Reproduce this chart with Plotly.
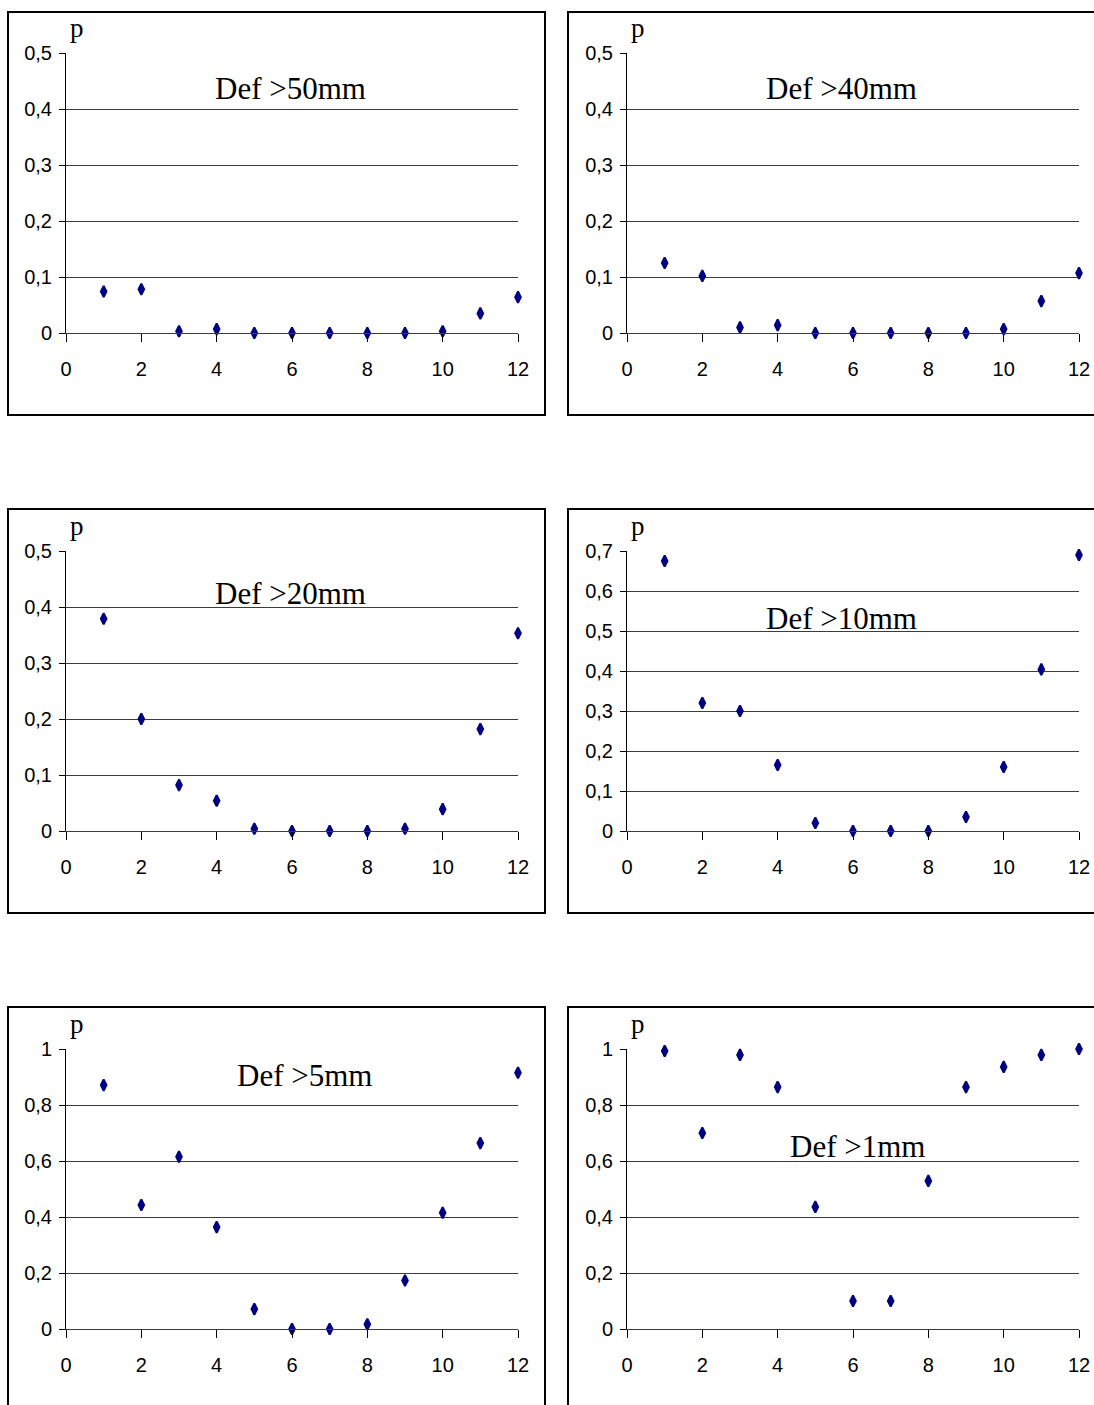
import plotly.graph_objects as go

# ---------------- data ----------------
months = [1, 2, 3, 4, 5, 6, 7, 8, 9, 10, 11, 12]

titles = ["Def >50mm", "Def >40mm", "Def >20mm", "Def >10mm", "Def >5mm", "Def >1mm"]

p_def50 = [0.074, 0.078, 0.003, 0.007, 0.0, 0.0, 0.0, 0.0, 0.0, 0.003, 0.035, 0.064]
p_def40 = [0.125, 0.102, 0.010, 0.014, 0.0, 0.0, 0.0, 0.0, 0.0, 0.007, 0.057, 0.107]
p_def20 = [0.379, 0.200, 0.082, 0.054, 0.004, 0.0, 0.0, 0.0, 0.004, 0.039, 0.182, 0.353]
p_def10 = [0.675, 0.320, 0.300, 0.165, 0.020, 0.0, 0.0, 0.0, 0.035, 0.160, 0.404, 0.690]
p_def5 = [0.871, 0.443, 0.615, 0.364, 0.071, 0.0, 0.0, 0.017, 0.173, 0.415, 0.664, 0.915]
p_def1 = [0.993, 0.700, 0.979, 0.864, 0.436, 0.100, 0.100, 0.529, 0.864, 0.936, 0.979, 1.000]

series = [p_def50, p_def40, p_def20, p_def10, p_def5, p_def1]
y_max = [0.5, 0.5, 0.5, 0.7, 1.0, 1.0]
y_step = [0.1, 0.1, 0.1, 0.1, 0.2, 0.2]
x_ticks = [0, 2, 4, 6, 8, 10, 12]

# ---------------- layout helpers ----------------
W, H = 1094, 1405


def px_x(v):
    return v / W


def px_y(v):
    return 1 - v / H


col_px = [(66, 518), (627, 1079)]
row_px = [(53, 333), (551, 831), (1049, 1329)]
box_col = [(8, 545), (568, 1110)]
box_row = [(12, 415), (509, 913), (1007, 1420)]
title_pos = [(290, 89), (841, 89), (290, 594), (841, 618), (305, 1075), (857, 1146)]

tick_font = dict(family="Liberation Sans, Arial, sans-serif", size=20, color="black")
serif = "Liberation Serif, Times New Roman, serif"
marker_color = "#000080"
grid_color = "#3c3c3c"

fig = go.Figure()
layout = dict(
    width=W, height=H,
    margin=dict(l=0, r=0, t=0, b=0, pad=0, autoexpand=False),
    paper_bgcolor="white", plot_bgcolor="white",
    showlegend=False,
    separators=", ",
    shapes=[], annotations=[],
)

for i, ys in enumerate(series):
    r, c = divmod(i, 2)
    n = "" if i == 0 else str(i + 1)
    xa, ya = "x" + n, "y" + n
    fig.add_trace(go.Scatter(
        x=months, y=ys, mode="markers", xaxis=xa, yaxis=ya,
        cliponaxis=False,
        marker=dict(symbol="diamond-tall", size=8, color=marker_color,
                    line=dict(color=marker_color, width=2)),
    ))
    x0, x1 = col_px[c]
    yt, yb = row_px[r]
    layout["xaxis" + n] = dict(
        domain=[px_x(x0), px_x(x1)], anchor=ya, range=[0, 12], automargin=False,
        tickvals=x_ticks, ticks="outside", ticklen=8, tickcolor="black", tickwidth=1,
        showline=True, linecolor=grid_color, linewidth=1,
        showgrid=False, zeroline=False, tickfont=tick_font,
        ticklabelstandoff=10, fixedrange=True,
    )
    layout["yaxis" + n] = dict(
        domain=[px_y(yb), px_y(yt)], anchor=xa, range=[0, y_max[i]], automargin=False,
        dtick=y_step[i], tick0=0, ticks="outside", ticklen=6, tickcolor="black", tickwidth=1,
        showline=True, linecolor="black", linewidth=1,
        showgrid=True, gridcolor=grid_color, gridwidth=1, zeroline=False,
        tickfont=tick_font, ticklabelstandoff=3, fixedrange=True,
    )
    bx0, bx1 = box_col[c]
    by0, by1 = box_row[r]
    layout["shapes"].append(dict(
        type="rect", xref="paper", yref="paper",
        x0=px_x(bx0), x1=px_x(bx1), y0=px_y(by1), y1=px_y(by0),
        line=dict(color="black", width=2), fillcolor="rgba(0,0,0,0)", layer="below",
    ))
    layout["annotations"].append(dict(
        text="p", xref="paper", yref="paper", x=px_x(x0 + 2), y=px_y(yt - 25),
        xanchor="left", yanchor="middle", showarrow=False,
        font=dict(family=serif, size=27, color="black"),
    ))
    tx, ty = title_pos[i]
    layout["annotations"].append(dict(
        text=titles[i], xref="paper", yref="paper", x=px_x(tx), y=px_y(ty),
        xanchor="center", yanchor="middle", showarrow=False,
        font=dict(family=serif, size=31, color="black"),
    ))

fig.update_layout(**layout)
fig.write_html(
    "out.html",
    config={"displayModeBar": False},
    post_script="document.body.style.margin='0';document.body.style.overflow='hidden';",
)
